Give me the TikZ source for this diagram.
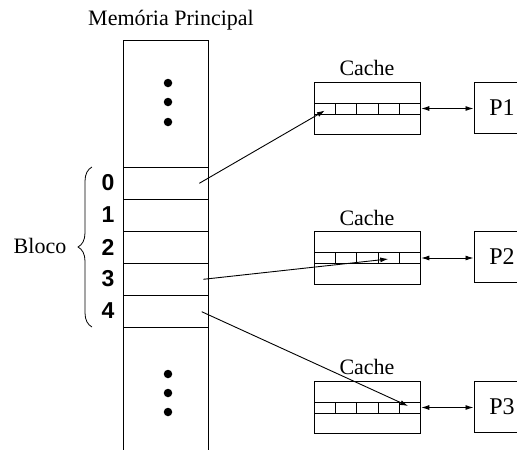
\documentclass[tikz,border=0pt]{standalone}
\usepackage{fontspec}
\setmainfont{Liberation Serif}
\newfontfamily\digitfont{Liberation Sans}
\usetikzlibrary{arrows.meta,decorations.pathreplacing,calc}
\begin{document}
\begin{tikzpicture}[x=1pt,y=-1pt,
  every node/.style={font=\fontsize{22}{26}\selectfont},
  line/.style={line width=1pt},
  blockbox/.style={draw,line width=1pt,minimum width=85pt,minimum height=32pt,inner sep=0pt},
  digit/.style={font=\digitfont\bfseries\fontsize{23}{27}\selectfont},
  cachebox/.style={draw,line width=1pt,minimum width=106.5pt,minimum height=52.5pt,inner sep=0pt},
  cell/.style={draw,line width=1pt,minimum width=21.3pt,minimum height=11pt,inner sep=0pt},
  procbox/.style={draw,line width=1pt,minimum width=56pt,minimum height=51pt,inner sep=0pt,
    font=\fontsize{24}{28}\selectfont},
  dot/.style={fill=black,circle,inner sep=0pt,minimum size=8.5pt},
  link/.style={line width=0.9pt,-{Latex[length=8pt,width=5pt]}},
  biarrow/.style={line width=0.9pt,{Latex[length=8pt,width=5pt]}-{Latex[length=8pt,width=5pt]}}]
\clip (0,0) rectangle (517,450);
\useasboundingbox (0,0) rectangle (517,450);

% main memory column (open at the bottom)
\node (title) at (171,20) {Memória Principal};
\draw[line] (123.3,452) -- (123.3,40) -- (208.3,40) -- (208.3,452);
\foreach \i in {0,...,4} {
  \node[blockbox] (b\i) at (165.8,{183+32*\i}) {};
  \node[digit] (d\i) at (108,{183+32*\i}) {\i};
}
\foreach \y [count=\k] in {83,102,122,374,393,412}
  \node[dot] (dot\k) at (168,\y) {};

% brace grouping the block
\coordinate (brbot) at (92,327);
\coordinate (brtop) at (92,167);
\draw[line width=0.8pt,decorate,decoration={brace,amplitude=14pt}] (brbot) -- (brtop);
\node (bloco) at (40,246) {Bloco};

% caches and processors
\foreach \n/\t in {1/82,2/231.5,3/381} {
  \node[cachebox] (cache\n) at (367.5,{\t+26.25}) {};
  \node (clabel\n) at (367,{\t-14}) {Cache};
  \foreach \c in {0,...,4}
    \node[cell] (c\n-\c) at ({314.25+10.65+21.3*\c},{\t+26.5}) {};
  \node[procbox] (p\n) at (502,{\t+25.5}) {P\n};
  \draw[biarrow] (cache\n.east |- c\n-4.east) -- (p\n.west |- c\n-4.east);
}

% block-to-line mappings
\coordinate (s0) at (199.3,183.3);
\coordinate (s3) at (203.3,279.3);
\coordinate (s4) at (201.7,311.7);
\draw[link] (s0) -- ($(c1-0.center)+(0,2)$);
\draw[link] (s3) -- ($(c2-3.center)+(-0.5,1)$);
\draw[link] (s4) -- ($(c3-4.center)+(-2,-1.5)$);
\end{tikzpicture}
\end{document}
